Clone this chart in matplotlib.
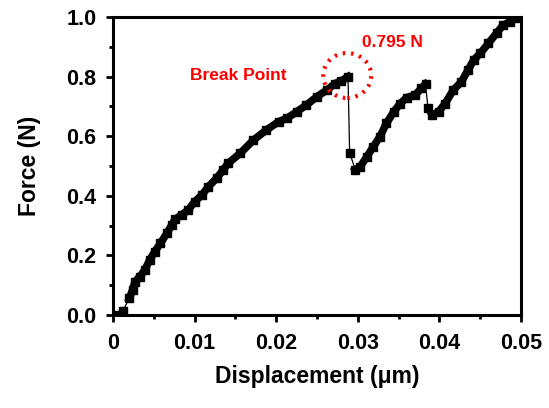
import matplotlib
matplotlib.use("Agg")
import matplotlib.pyplot as plt
from matplotlib.patches import Ellipse
import numpy as np

plt.rcParams['font.family'] = ['Liberation Sans', 'DejaVu Sans']

# Data (Displacement in µm, Force in N)
disp_1 = [0.0003, 0.0012, 0.0020, 0.0024, 0.0027, 0.0033, 0.0039, 0.0045, 0.0051,
          0.0058, 0.0066, 0.0072, 0.0076, 0.0084, 0.0092, 0.0100, 0.0109, 0.0117,
          0.0127, 0.0135, 0.0141, 0.0156, 0.0172, 0.0188, 0.0203, 0.0213, 0.0225,
          0.0237, 0.0250, 0.0262, 0.0272, 0.0280, 0.0288]
force_1 = [0.000, 0.013, 0.056, 0.084, 0.112, 0.129, 0.151, 0.185, 0.212,
           0.240, 0.274, 0.302, 0.321, 0.336, 0.352, 0.380, 0.403, 0.431,
           0.459, 0.487, 0.509, 0.543, 0.587, 0.621, 0.649, 0.660, 0.682,
           0.705, 0.733, 0.755, 0.777, 0.786, 0.800]
disp_2 = [0.0290, 0.0297, 0.0303, 0.0311, 0.0319, 0.0327, 0.0335, 0.0344, 0.0352,
          0.0360, 0.0370, 0.0378, 0.0383]
force_2 = [0.545, 0.487, 0.498, 0.531, 0.565, 0.598, 0.643, 0.682, 0.710,
           0.730, 0.738, 0.761, 0.775]
disp_3 = [0.0386, 0.0391, 0.0399, 0.0407, 0.0417, 0.0427, 0.0435, 0.0442, 0.0450,
          0.0460, 0.0470, 0.0478, 0.0487, 0.0493, 0.0499]
force_3 = [0.694, 0.671, 0.682, 0.710, 0.755, 0.783, 0.822, 0.856, 0.878,
           0.912, 0.946, 0.973, 0.984, 0.996, 1.000]

x_ticks = [0, 0.01, 0.02, 0.03, 0.04, 0.05]
x_tick_labels = ['0', '0.01', '0.02', '0.03', '0.04', '0.05']
y_ticks = [0.0, 0.2, 0.4, 0.6, 0.8, 1.0]
y_tick_labels = ['0.0', '0.2', '0.4', '0.6', '0.8', '1.0']
break_force = 0.795

fig = plt.figure(figsize=(5.49, 4.08), dpi=100)
ax = fig.add_axes([0.2058, 0.228, 0.7432, 0.730])

disp_all = disp_1 + disp_2 + disp_3
force_all = force_1 + force_2 + force_3

# thin connecting line through all points
ax.plot(disp_all, force_all, color='black', lw=0.9, zorder=2)
# thick continuous segments
ax.plot(disp_1[2:], force_1[2:], color='black', lw=5.5, zorder=3)
ax.plot(disp_2[1:], force_2[1:], color='black', lw=5.5, zorder=3)
ax.plot(disp_3[1:], force_3[1:], color='black', lw=5.5, zorder=3)
ax.plot(disp_all, force_all, linestyle='none', marker='s', ms=5.5, color='black', zorder=4)

ax.set_xlim(0, 0.05)
ax.set_ylim(0, 1.0)
ax.set_xticks(x_ticks)
ax.set_xticklabels(x_tick_labels)
ax.set_yticks(y_ticks)
ax.set_yticklabels(y_tick_labels)
ax.set_xticks(np.arange(0.005, 0.05, 0.01), minor=True)
ax.set_yticks(np.arange(0.1, 1.0, 0.2), minor=True)

for s in ax.spines.values():
    s.set_linewidth(2.2)
ax.tick_params(which='major', direction='out', length=5, width=2, labelsize=15.5)
ax.tick_params(axis='x', which='major', pad=8)
ax.tick_params(axis='y', which='major', pad=7)
ax.tick_params(which='minor', direction='out', length=3, width=2)
for lab in ax.get_xticklabels() + ax.get_yticklabels():
    lab.set_fontweight('bold')

ax.set_xlabel('Displacement (μm)', fontsize=16.5, fontweight='bold', labelpad=8)
ax.set_ylabel('Force (N)', fontsize=16.5, fontweight='bold', labelpad=18)

# annotations
circ = Ellipse((0.0287, 0.804), width=48/8160, height=45/298, fill=False,
               edgecolor='red', linestyle=(0, (0.6, 1.4)), linewidth=3, zorder=5)
ax.add_patch(circ)
ax.text(0.0153, 0.805, 'Break Point', color='red', fontsize=12.5, fontweight='bold',
        ha='center', va='center')
ax.text(0.0342, 0.916, f'{break_force:.3f} N', color='red', fontsize=12.5, fontweight='bold',
        ha='center', va='center')

fig.savefig('out.png', dpi=100)
